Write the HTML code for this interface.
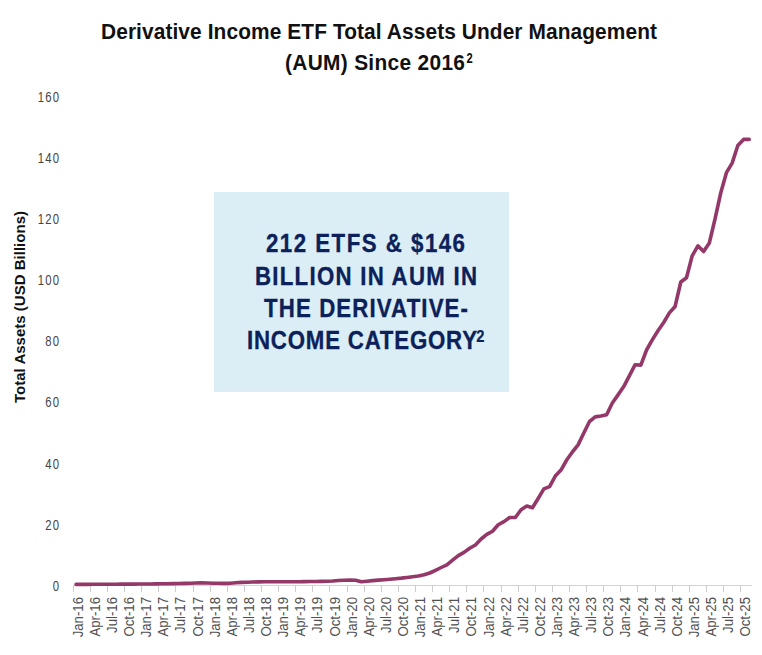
<!DOCTYPE html>
<html><head><meta charset="utf-8"><style>
html,body{margin:0;padding:0;background:#fff;}
svg{display:block;}
</style></head><body>
<svg width="762" height="655" viewBox="0 0 762 655">
<rect x="0" y="0" width="762" height="655" fill="#fff"/>
<g font-family="Liberation Sans, sans-serif" font-weight="bold" fill="#111" font-size="22">
<text transform="translate(101,38.7) scale(0.95,1)" textLength="585.26" lengthAdjust="spacing">Derivative Income ETF Total Assets Under Management</text>
<text transform="translate(285,69.6) scale(0.95,1)" textLength="189.47" lengthAdjust="spacing">(AUM) Since 2016</text>
<text x="466.6" y="62.7" font-size="14.5" font-weight="bold" textLength="6.2" lengthAdjust="spacingAndGlyphs">2</text>
</g>
<rect x="214" y="192" width="295" height="200" fill="#dbeef5"/>
<g font-family="Liberation Sans, sans-serif" font-weight="bold" fill="#0c2159" stroke="#0c2159" stroke-width="0.35" font-size="26.5">
<text transform="translate(266,251.6) scale(0.84,1)" textLength="236.90" lengthAdjust="spacing">212 ETFS &amp; $146</text>
<text transform="translate(255,284.7) scale(0.84,1)" textLength="264.29" lengthAdjust="spacing">BILLION IN AUM IN</text>
<text transform="translate(264,317.3) scale(0.84,1)" textLength="242.86" lengthAdjust="spacing">THE DERIVATIVE-</text>
<text transform="translate(247,348.7) scale(0.84,1)" textLength="273.81" lengthAdjust="spacing">INCOME CATEGORY</text>
<text x="476.3" y="341.7" font-size="16.5" stroke-width="0.2" textLength="8.2" lengthAdjust="spacingAndGlyphs">2</text>
</g>
<g font-family="Liberation Sans, sans-serif" fill="#444" font-size="14.5">
<text transform="translate(60.1,590.80) scale(0.78,1)" text-anchor="end" letter-spacing="1.5">0</text><text transform="translate(60.1,529.68) scale(0.78,1)" text-anchor="end" letter-spacing="1.5">20</text><text transform="translate(60.1,468.56) scale(0.78,1)" text-anchor="end" letter-spacing="1.5">40</text><text transform="translate(60.1,407.44) scale(0.78,1)" text-anchor="end" letter-spacing="1.5">60</text><text transform="translate(60.1,346.32) scale(0.78,1)" text-anchor="end" letter-spacing="1.5">80</text><text transform="translate(60.1,285.20) scale(0.78,1)" text-anchor="end" letter-spacing="1.5">100</text><text transform="translate(60.1,224.08) scale(0.78,1)" text-anchor="end" letter-spacing="1.5">120</text><text transform="translate(60.1,162.96) scale(0.78,1)" text-anchor="end" letter-spacing="1.5">140</text><text transform="translate(60.1,101.84) scale(0.78,1)" text-anchor="end" letter-spacing="1.5">160</text>
</g>
<text transform="translate(25.1,403) rotate(-90)" font-family="Liberation Sans, sans-serif" font-weight="bold" font-size="15" fill="#111" textLength="192" lengthAdjust="spacingAndGlyphs">Total Assets (USD Billions)</text>
<line x1="73" y1="585.5" x2="752" y2="585.5" stroke="#d4d4d4" stroke-width="1"/>
<g stroke="#cdcdcd" stroke-width="1"><line x1="73.5" y1="585.5" x2="73.5" y2="592"/><line x1="90.5" y1="585.5" x2="90.5" y2="592"/><line x1="107.5" y1="585.5" x2="107.5" y2="592"/><line x1="124.5" y1="585.5" x2="124.5" y2="592"/><line x1="141.5" y1="585.5" x2="141.5" y2="592"/><line x1="158.5" y1="585.5" x2="158.5" y2="592"/><line x1="175.5" y1="585.5" x2="175.5" y2="592"/><line x1="193.5" y1="585.5" x2="193.5" y2="592"/><line x1="210.5" y1="585.5" x2="210.5" y2="592"/><line x1="227.5" y1="585.5" x2="227.5" y2="592"/><line x1="244.5" y1="585.5" x2="244.5" y2="592"/><line x1="261.5" y1="585.5" x2="261.5" y2="592"/><line x1="278.5" y1="585.5" x2="278.5" y2="592"/><line x1="295.5" y1="585.5" x2="295.5" y2="592"/><line x1="312.5" y1="585.5" x2="312.5" y2="592"/><line x1="329.5" y1="585.5" x2="329.5" y2="592"/><line x1="347.5" y1="585.5" x2="347.5" y2="592"/><line x1="364.5" y1="585.5" x2="364.5" y2="592"/><line x1="381.5" y1="585.5" x2="381.5" y2="592"/><line x1="398.5" y1="585.5" x2="398.5" y2="592"/><line x1="415.5" y1="585.5" x2="415.5" y2="592"/><line x1="432.5" y1="585.5" x2="432.5" y2="592"/><line x1="449.5" y1="585.5" x2="449.5" y2="592"/><line x1="466.5" y1="585.5" x2="466.5" y2="592"/><line x1="483.5" y1="585.5" x2="483.5" y2="592"/><line x1="501.5" y1="585.5" x2="501.5" y2="592"/><line x1="518.5" y1="585.5" x2="518.5" y2="592"/><line x1="535.5" y1="585.5" x2="535.5" y2="592"/><line x1="552.5" y1="585.5" x2="552.5" y2="592"/><line x1="569.5" y1="585.5" x2="569.5" y2="592"/><line x1="586.5" y1="585.5" x2="586.5" y2="592"/><line x1="603.5" y1="585.5" x2="603.5" y2="592"/><line x1="620.5" y1="585.5" x2="620.5" y2="592"/><line x1="637.5" y1="585.5" x2="637.5" y2="592"/><line x1="655.5" y1="585.5" x2="655.5" y2="592"/><line x1="672.5" y1="585.5" x2="672.5" y2="592"/><line x1="689.5" y1="585.5" x2="689.5" y2="592"/><line x1="706.5" y1="585.5" x2="706.5" y2="592"/><line x1="723.5" y1="585.5" x2="723.5" y2="592"/><line x1="740.5" y1="585.5" x2="740.5" y2="592"/></g>
<g font-family="Liberation Sans, sans-serif" fill="#505050" font-size="15"><text transform="translate(82.80,597) rotate(-90) scale(0.88,1)" text-anchor="end">Jan-16</text><text transform="translate(99.91,597) rotate(-90) scale(0.88,1)" text-anchor="end">Apr-16</text><text transform="translate(117.03,597) rotate(-90) scale(0.88,1)" text-anchor="end">Jul-16</text><text transform="translate(134.15,597) rotate(-90) scale(0.88,1)" text-anchor="end">Oct-16</text><text transform="translate(151.26,597) rotate(-90) scale(0.88,1)" text-anchor="end">Jan-17</text><text transform="translate(168.38,597) rotate(-90) scale(0.88,1)" text-anchor="end">Apr-17</text><text transform="translate(185.49,597) rotate(-90) scale(0.88,1)" text-anchor="end">Jul-17</text><text transform="translate(202.60,597) rotate(-90) scale(0.88,1)" text-anchor="end">Oct-17</text><text transform="translate(219.72,597) rotate(-90) scale(0.88,1)" text-anchor="end">Jan-18</text><text transform="translate(236.84,597) rotate(-90) scale(0.88,1)" text-anchor="end">Apr-18</text><text transform="translate(253.95,597) rotate(-90) scale(0.88,1)" text-anchor="end">Jul-18</text><text transform="translate(271.07,597) rotate(-90) scale(0.88,1)" text-anchor="end">Oct-18</text><text transform="translate(288.18,597) rotate(-90) scale(0.88,1)" text-anchor="end">Jan-19</text><text transform="translate(305.30,597) rotate(-90) scale(0.88,1)" text-anchor="end">Apr-19</text><text transform="translate(322.41,597) rotate(-90) scale(0.88,1)" text-anchor="end">Jul-19</text><text transform="translate(339.53,597) rotate(-90) scale(0.88,1)" text-anchor="end">Oct-19</text><text transform="translate(356.64,597) rotate(-90) scale(0.88,1)" text-anchor="end">Jan-20</text><text transform="translate(373.75,597) rotate(-90) scale(0.88,1)" text-anchor="end">Apr-20</text><text transform="translate(390.87,597) rotate(-90) scale(0.88,1)" text-anchor="end">Jul-20</text><text transform="translate(407.99,597) rotate(-90) scale(0.88,1)" text-anchor="end">Oct-20</text><text transform="translate(425.10,597) rotate(-90) scale(0.88,1)" text-anchor="end">Jan-21</text><text transform="translate(442.22,597) rotate(-90) scale(0.88,1)" text-anchor="end">Apr-21</text><text transform="translate(459.33,597) rotate(-90) scale(0.88,1)" text-anchor="end">Jul-21</text><text transform="translate(476.44,597) rotate(-90) scale(0.88,1)" text-anchor="end">Oct-21</text><text transform="translate(493.56,597) rotate(-90) scale(0.88,1)" text-anchor="end">Jan-22</text><text transform="translate(510.68,597) rotate(-90) scale(0.88,1)" text-anchor="end">Apr-22</text><text transform="translate(527.79,597) rotate(-90) scale(0.88,1)" text-anchor="end">Jul-22</text><text transform="translate(544.91,597) rotate(-90) scale(0.88,1)" text-anchor="end">Oct-22</text><text transform="translate(562.02,597) rotate(-90) scale(0.88,1)" text-anchor="end">Jan-23</text><text transform="translate(579.13,597) rotate(-90) scale(0.88,1)" text-anchor="end">Apr-23</text><text transform="translate(596.25,597) rotate(-90) scale(0.88,1)" text-anchor="end">Jul-23</text><text transform="translate(613.37,597) rotate(-90) scale(0.88,1)" text-anchor="end">Oct-23</text><text transform="translate(630.48,597) rotate(-90) scale(0.88,1)" text-anchor="end">Jan-24</text><text transform="translate(647.60,597) rotate(-90) scale(0.88,1)" text-anchor="end">Apr-24</text><text transform="translate(664.71,597) rotate(-90) scale(0.88,1)" text-anchor="end">Jul-24</text><text transform="translate(681.83,597) rotate(-90) scale(0.88,1)" text-anchor="end">Oct-24</text><text transform="translate(698.94,597) rotate(-90) scale(0.88,1)" text-anchor="end">Jan-25</text><text transform="translate(716.06,597) rotate(-90) scale(0.88,1)" text-anchor="end">Apr-25</text><text transform="translate(733.17,597) rotate(-90) scale(0.88,1)" text-anchor="end">Jul-25</text><text transform="translate(750.29,597) rotate(-90) scale(0.88,1)" text-anchor="end">Oct-25</text></g>
<polyline points="76.05,584.40 81.76,584.37 87.46,584.34 93.17,584.31 98.87,584.28 104.58,584.25 110.28,584.21 115.99,584.18 121.69,584.15 127.40,584.12 133.10,584.09 138.81,584.06 144.51,584.03 150.22,584.00 155.92,583.90 161.63,583.80 167.33,583.70 173.04,583.60 178.74,583.50 184.45,583.40 190.15,583.29 195.86,583.03 201.56,582.82 207.27,583.00 212.97,583.18 218.68,583.32 224.38,583.37 230.09,583.19 235.79,582.80 241.50,582.40 247.20,582.18 252.91,582.01 258.61,581.84 264.32,581.79 270.02,581.77 275.73,581.76 281.43,581.75 287.14,581.73 292.84,581.72 298.55,581.70 304.25,581.63 309.96,581.53 315.66,581.44 321.37,581.34 327.07,581.25 332.78,580.99 338.48,580.55 344.19,580.20 349.89,579.96 355.60,580.32 361.30,581.80 367.01,581.17 372.71,580.59 378.42,580.16 384.12,579.71 389.83,579.19 395.53,578.68 401.24,578.15 406.94,577.47 412.65,576.79 418.35,576.00 424.06,574.80 429.76,573.00 435.47,570.30 441.17,567.50 446.88,564.80 452.58,560.20 458.29,555.60 463.99,552.40 469.70,548.30 475.40,545.00 481.11,539.00 486.81,534.40 492.52,531.20 498.22,524.80 503.93,521.60 509.63,517.50 515.34,517.50 521.04,509.70 526.75,506.00 532.45,507.70 538.16,498.50 543.86,488.90 549.57,486.60 555.27,476.10 560.98,470.10 566.68,460.00 572.39,452.00 578.09,444.90 583.80,433.00 589.50,421.50 595.21,416.90 600.91,416.00 606.62,414.70 612.32,403.00 618.03,394.90 623.73,386.60 629.44,375.60 635.14,364.70 640.85,365.10 646.55,350.00 652.26,339.90 657.96,330.70 663.67,322.50 669.37,312.90 675.08,306.50 680.78,282.00 686.49,277.70 692.19,255.80 697.90,245.80 703.60,251.50 709.31,243.00 715.01,219.00 720.72,193.00 726.42,172.70 732.13,163.10 737.83,145.50 743.54,139.40 749.24,139.40" fill="none" stroke="#933868" stroke-width="3.6" stroke-linejoin="round" stroke-linecap="round"/>
</svg>
</body></html>
